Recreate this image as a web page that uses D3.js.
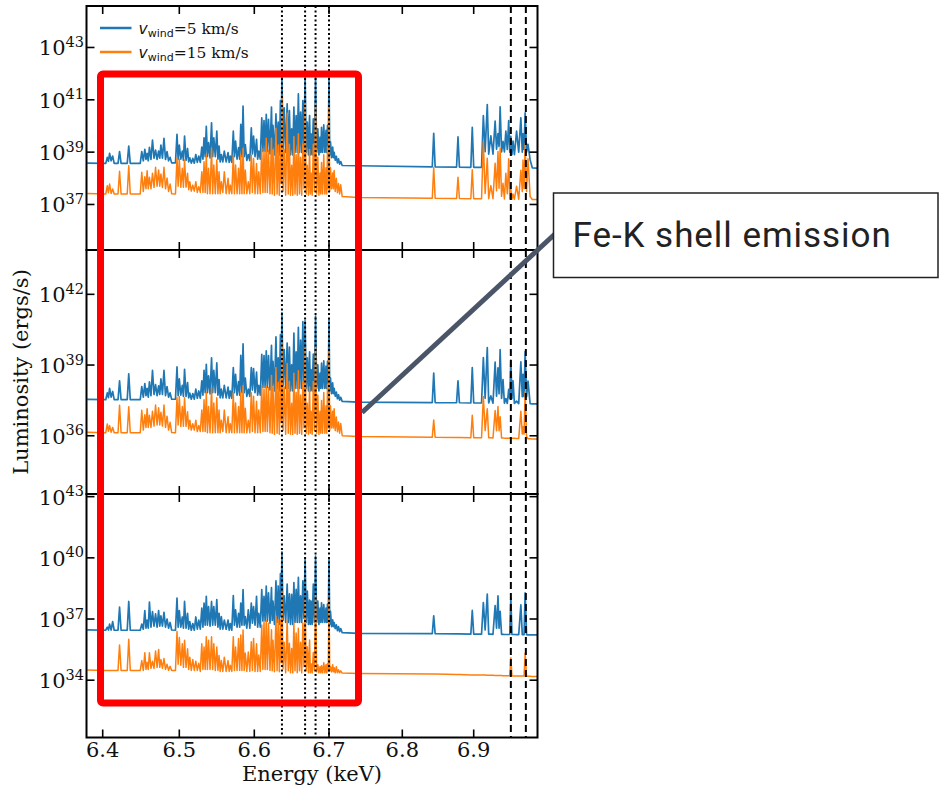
<!DOCTYPE html>
<html>
<head>
<meta charset="utf-8">
<script src="https://cdn.jsdelivr.net/npm/d3@7"></script>
<style>
  html, body { margin: 0; padding: 0; background: #fff; }
  svg { display: block; }
</style>
</head>
<body>
<svg id="chart" width="942" height="790"></svg>
<script>
// Photon energy of each spectrum vertex (keV), shared by all six spectra.
const energy = [
  6.380, 6.404, 6.406, 6.4075, 6.409, 6.411, 6.413, 6.415, 6.420, 6.422,
  6.424, 6.432, 6.434, 6.436, 6.449, 6.451, 6.453, 6.455, 6.4565, 6.458,
  6.4595, 6.461, 6.463, 6.465, 6.467, 6.469, 6.471, 6.473, 6.4745, 6.476,
  6.478, 6.480, 6.482, 6.484, 6.486, 6.488, 6.490, 6.495, 6.497, 6.4985,
  6.500, 6.502, 6.504, 6.5055, 6.507, 6.509, 6.511, 6.5125, 6.514, 6.516,
  6.518, 6.520, 6.522, 6.524, 6.526, 6.528, 6.530, 6.5315, 6.533, 6.5345,
  6.536, 6.5375, 6.539, 6.541, 6.543, 6.5445, 6.546, 6.548, 6.550, 6.5515,
  6.553, 6.5545, 6.556, 6.558, 6.560, 6.5625, 6.565, 6.5665, 6.568, 6.570,
  6.572, 6.5735, 6.575, 6.577, 6.579, 6.5805, 6.582, 6.5835, 6.585, 6.5865,
  6.588, 6.590, 6.592, 6.594, 6.596, 6.5975, 6.599, 6.601, 6.603, 6.6045,
  6.606, 6.608, 6.610, 6.6115, 6.613, 6.6145, 6.616, 6.6175, 6.619, 6.621,
  6.623, 6.624, 6.625, 6.627, 6.629, 6.6305, 6.632, 6.6335, 6.635, 6.636,
  6.637, 6.6385, 6.640, 6.642, 6.644, 6.6455, 6.647, 6.6485, 6.650, 6.6515,
  6.653, 6.6545, 6.656, 6.6575, 6.659, 6.6605, 6.662, 6.6635, 6.665, 6.6665,
  6.668, 6.6695, 6.671, 6.6725, 6.674, 6.675, 6.676, 6.6775, 6.679, 6.6805,
  6.682, 6.6835, 6.685, 6.6865, 6.688, 6.689, 6.690, 6.6915, 6.693, 6.6945,
  6.696, 6.697, 6.698, 6.699, 6.700, 6.701, 6.702, 6.7035, 6.705, 6.706,
  6.707, 6.7085, 6.710, 6.7115, 6.713, 6.7145, 6.716, 6.718, 6.740, 6.842,
  6.844, 6.846, 6.876, 6.878, 6.880, 6.896, 6.898, 6.900, 6.911, 6.9135,
  6.916, 6.919, 6.921, 6.924, 6.927, 6.930, 6.932, 6.934, 6.9355, 6.937,
  6.939, 6.941, 6.943, 6.945, 6.947, 6.949, 6.9505, 6.952, 6.9535, 6.955,
  6.957, 6.960, 6.963, 6.966, 6.968, 6.969, 6.9705, 6.972, 6.974, 6.976,
  6.979, 6.982, 6.990
];

// log10 luminosity (ergs/s), upper panel, v_wind = 5 km/s
const logL_top_5 = [
  38.58, 38.57, 38.80, 38.65, 38.95, 38.67, 38.85, 38.57, 38.57, 39.02,
  38.57, 38.57, 39.23, 38.57, 38.57, 39.02, 38.67, 39.11, 38.72, 38.95,
  38.67, 39.18, 38.72, 39.46, 38.77, 39.08, 38.72, 39.04, 38.77, 39.27,
  38.77, 39.53, 38.72, 39.02, 38.67, 38.80, 38.59, 38.59, 39.68, 38.72,
  39.27, 38.73, 39.04, 38.68, 39.61, 38.68, 39.14, 38.63, 38.78, 38.58,
  38.76, 38.58, 38.91, 38.61, 38.85, 38.61, 39.19, 38.73, 39.55, 38.83,
  39.99, 38.83, 39.36, 38.78, 40.12, 38.83, 39.55, 38.83, 39.80, 38.73,
  39.23, 38.63, 38.91, 38.63, 39.04, 38.63, 38.98, 38.61, 38.85, 38.61,
  39.80, 38.83, 39.42, 38.73, 39.17, 38.73, 40.06, 38.83, 40.76, 38.83,
  39.29, 38.68, 38.91, 38.68, 39.93, 38.93, 39.61, 38.83, 39.49, 38.73,
  39.04, 38.73, 40.31, 39.03, 40.21, 39.03, 40.44, 39.03, 40.25, 38.93,
  40.72, 39.09, 40.02, 38.89, 40.46, 38.99, 40.15, 38.89, 40.97, 39.29,
  41.95, 39.09, 40.69, 38.99, 40.85, 38.99, 40.59, 38.89, 39.89, 38.89,
  40.72, 38.99, 40.40, 38.99, 41.23, 38.99, 40.53, 38.99, 40.97, 39.19,
  41.90, 38.99, 40.15, 38.89, 40.40, 38.89, 39.70, 38.89, 40.27, 38.99,
  41.92, 38.99, 39.89, 38.89, 39.57, 38.99, 39.95, 38.99, 40.04, 38.99,
  39.83, 38.99, 40.02, 38.99, 41.93, 38.89, 39.39, 38.79, 39.19, 38.79,
  38.99, 38.69, 38.84, 38.59, 38.74, 38.54, 38.64, 38.49, 38.48, 38.44,
  39.72, 38.44, 38.43, 39.58, 38.43, 38.42, 39.95, 38.42, 38.42, 40.40,
  39.02, 40.82, 38.92, 39.62, 38.92, 40.19, 39.11, 39.71, 39.21, 40.73,
  39.01, 39.41, 39.01, 39.80, 39.10, 40.21, 39.00, 39.60, 38.90, 39.42,
  38.90, 39.80, 39.00, 40.31, 39.00, 39.70, 39.10, 40.50, 39.00, 39.30,
  38.70, 38.40, 38.39
];

// log10 luminosity (ergs/s), upper panel, v_wind = 15 km/s
const logL_top_15 = [
  37.42, 37.40, 37.72, 37.45, 37.78, 37.42, 37.59, 37.40, 37.40, 38.27,
  37.40, 37.40, 38.48, 37.40, 37.40, 38.23, 37.50, 38.06, 37.60, 38.29,
  37.60, 38.04, 37.60, 38.19, 37.65, 38.42, 37.70, 38.32, 37.70, 38.16,
  37.65, 38.42, 37.60, 38.01, 37.50, 37.78, 37.41, 37.40, 38.78, 37.70,
  38.74, 37.66, 38.38, 37.66, 38.70, 37.66, 38.19, 37.56, 37.87, 37.51,
  37.74, 37.51, 37.87, 37.46, 37.68, 37.46, 38.25, 37.46, 38.63, 37.46,
  38.89, 37.41, 38.38, 37.41, 39.14, 37.41, 38.51, 37.41, 38.70, 37.41,
  38.25, 37.41, 37.87, 37.46, 38.25, 37.41, 38.00, 37.41, 37.74, 37.41,
  38.89, 37.41, 38.51, 37.41, 38.38, 37.41, 38.89, 37.41, 39.14, 37.41,
  38.32, 37.41, 37.87, 37.41, 38.89, 37.46, 38.76, 37.41, 38.57, 37.41,
  38.25, 37.41, 39.14, 37.46, 39.02, 37.46, 39.53, 37.46, 39.08, 37.41,
  39.53, 37.40, 39.08, 37.35, 39.91, 37.40, 39.27, 37.35, 39.30, 37.80,
  41.10, 37.50, 39.10, 37.35, 40.50, 37.40, 39.30, 37.35, 38.50, 37.35,
  39.60, 37.40, 38.90, 37.35, 39.70, 37.40, 38.80, 37.35, 39.30, 37.60,
  40.85, 37.40, 38.50, 37.35, 39.10, 37.40, 38.20, 37.35, 39.30, 37.50,
  40.85, 37.40, 38.80, 37.35, 38.20, 37.40, 38.60, 37.40, 38.90, 37.40,
  38.40, 37.40, 39.20, 37.60, 40.75, 37.50, 38.40, 37.60, 38.20, 37.60,
  38.30, 37.50, 38.00, 37.45, 37.80, 37.40, 37.75, 37.30, 37.27, 37.24,
  38.41, 37.24, 37.23, 38.04, 37.23, 37.22, 38.33, 37.22, 37.22, 39.41,
  37.42, 38.77, 37.22, 37.72, 37.22, 38.58, 37.52, 39.02, 37.62, 39.14,
  37.31, 37.81, 37.21, 38.19, 37.41, 38.75, 37.21, 37.60, 37.20, 37.40,
  37.20, 37.70, 37.20, 38.31, 37.50, 38.70, 37.60, 39.32, 37.50, 38.75,
  37.30, 37.19, 37.19
];

// log10 luminosity (ergs/s), middle panel, v_wind = 5 km/s
const logL_mid_5 = [
  37.54, 37.53, 37.82, 37.62, 38.01, 37.64, 37.88, 37.53, 37.53, 38.33,
  37.53, 37.53, 38.63, 37.53, 37.53, 38.09, 37.64, 38.21, 37.70, 38.01,
  37.64, 38.29, 37.70, 38.77, 37.75, 38.17, 37.70, 38.12, 37.75, 38.41,
  37.75, 38.77, 37.70, 38.09, 37.64, 37.82, 37.55, 37.55, 38.92, 37.70,
  38.41, 37.72, 38.14, 37.67, 38.82, 37.67, 38.26, 37.61, 37.81, 37.55,
  37.79, 37.55, 37.98, 37.59, 37.90, 37.59, 38.33, 37.72, 38.78, 37.83,
  39.03, 37.83, 38.54, 37.78, 39.31, 37.83, 38.78, 37.83, 39.09, 37.72,
  38.38, 37.61, 37.98, 37.61, 38.14, 37.61, 38.06, 37.59, 37.90, 37.59,
  38.89, 37.83, 38.61, 37.72, 38.30, 37.72, 39.41, 37.83, 39.90, 37.83,
  38.45, 37.67, 37.98, 37.67, 38.89, 37.94, 38.85, 37.83, 38.70, 37.72,
  38.14, 37.72, 39.45, 38.05, 39.40, 38.05, 39.60, 38.05, 39.40, 37.94,
  39.84, 38.12, 39.16, 37.90, 40.20, 38.01, 39.31, 37.90, 40.29, 38.34,
  41.22, 38.12, 39.66, 38.01, 39.93, 38.01, 39.76, 37.90, 39.01, 37.90,
  40.36, 38.01, 39.56, 38.01, 40.60, 38.01, 40.06, 38.01, 40.84, 38.23,
  40.88, 38.01, 39.31, 37.90, 39.56, 37.90, 38.81, 37.90, 39.46, 38.01,
  41.08, 38.01, 39.01, 37.90, 38.66, 38.01, 39.08, 38.01, 39.18, 38.01,
  38.95, 38.01, 39.16, 38.01, 40.94, 37.90, 38.46, 37.79, 38.24, 37.79,
  38.01, 37.68, 37.85, 37.57, 37.74, 37.51, 37.63, 37.46, 37.43, 37.41,
  38.66, 37.41, 37.40, 38.33, 37.40, 37.39, 38.89, 37.39, 37.39, 39.32,
  37.59, 39.74, 37.39, 37.69, 37.38, 39.12, 37.68, 38.88, 37.78, 39.65,
  37.58, 38.38, 37.38, 37.58, 37.37, 37.97, 37.57, 39.21, 37.57, 38.33,
  37.37, 37.47, 37.36, 39.14, 37.66, 38.61, 37.66, 39.57, 37.66, 38.32,
  37.36, 37.35, 37.35
];

// log10 luminosity (ergs/s), middle panel, v_wind = 15 km/s
const logL_mid_15 = [
  36.15, 36.13, 36.50, 36.19, 36.43, 36.15, 36.35, 36.13, 36.13, 37.29,
  36.13, 36.13, 37.23, 36.13, 36.13, 37.08, 36.24, 36.89, 36.35, 37.15,
  36.35, 36.87, 36.35, 37.04, 36.41, 37.30, 36.46, 37.19, 36.46, 37.00,
  36.41, 37.30, 36.35, 36.83, 36.24, 36.57, 36.14, 36.13, 37.62, 36.46,
  37.67, 36.40, 37.24, 36.40, 37.61, 36.40, 37.02, 36.29, 36.66, 36.24,
  36.51, 36.24, 36.66, 36.18, 36.44, 36.18, 37.09, 36.18, 37.53, 36.18,
  37.83, 36.13, 37.24, 36.13, 38.05, 36.13, 37.39, 36.13, 37.61, 36.13,
  37.09, 36.13, 36.66, 36.18, 37.09, 36.13, 36.81, 36.13, 36.51, 36.13,
  37.83, 36.13, 37.39, 36.13, 37.24, 36.13, 37.83, 36.13, 38.12, 36.13,
  37.17, 36.13, 36.66, 36.13, 37.83, 36.18, 37.68, 36.13, 37.46, 36.13,
  37.09, 36.13, 38.12, 36.18, 37.98, 36.18, 38.12, 36.18, 38.05, 36.13,
  38.56, 36.11, 38.05, 36.06, 38.90, 36.11, 38.27, 36.06, 38.40, 36.55,
  39.92, 36.22, 38.07, 36.06, 39.07, 36.11, 38.30, 36.06, 37.38, 36.06,
  38.65, 36.11, 37.84, 36.06, 38.76, 36.11, 37.73, 36.06, 38.30, 36.33,
  39.71, 36.11, 37.38, 36.06, 38.07, 36.11, 37.04, 36.06, 38.30, 36.22,
  39.78, 36.11, 37.73, 36.06, 37.04, 36.11, 37.50, 36.11, 37.84, 36.11,
  37.27, 36.11, 38.19, 36.33, 39.56, 36.22, 37.27, 36.33, 37.04, 36.33,
  37.15, 36.22, 36.80, 36.17, 36.58, 36.11, 36.52, 36.00, 35.97, 35.94,
  36.67, 35.94, 35.93, 35.93, 35.93, 35.92, 36.87, 35.92, 35.92, 37.67,
  36.22, 37.15, 35.92, 35.92, 35.91, 37.07, 36.21, 37.24, 36.21, 36.81,
  35.91, 35.91, 35.90, 35.90, 35.90, 35.89, 35.89, 35.89, 35.89, 35.89,
  35.89, 35.88, 35.88, 37.04, 36.08, 36.38, 36.07, 37.88, 35.97, 35.87,
  35.87, 35.86, 35.86
];

// log10 luminosity (ergs/s), lower panel, v_wind = 5 km/s
const logL_bot_5 = [
  36.47, 36.45, 36.60, 36.46, 36.75, 36.46, 36.87, 36.45, 36.45, 37.58,
  36.45, 36.45, 37.86, 36.45, 36.45, 36.75, 36.50, 37.41, 36.55, 36.95,
  36.55, 37.83, 36.60, 37.36, 36.65, 37.25, 36.60, 37.41, 36.65, 37.15,
  36.65, 37.33, 36.60, 37.00, 36.55, 36.83, 36.46, 36.45, 38.03, 36.60,
  37.41, 36.60, 37.10, 36.55, 37.86, 36.55, 37.28, 36.50, 36.87, 36.45,
  36.78, 36.45, 37.10, 36.50, 36.95, 36.50, 37.53, 36.60, 37.78, 36.70,
  38.11, 36.70, 37.61, 36.65, 37.86, 36.70, 37.61, 36.70, 37.95, 36.60,
  37.28, 36.50, 37.12, 36.50, 36.95, 36.50, 36.95, 36.45, 36.78, 36.45,
  38.15, 36.70, 37.45, 36.60, 37.28, 36.60, 37.78, 36.70, 38.44, 36.70,
  37.12, 36.55, 37.45, 36.55, 37.78, 36.80, 37.61, 36.70, 38.11, 36.60,
  37.28, 36.60, 38.44, 36.90, 38.11, 36.90, 38.61, 36.90, 38.28, 36.80,
  38.54, 36.93, 37.88, 36.73, 38.87, 36.83, 38.62, 36.73, 39.23, 37.13,
  40.29, 36.93, 38.13, 36.83, 38.71, 36.83, 38.23, 36.73, 38.21, 36.73,
  38.79, 36.83, 38.46, 36.83, 39.04, 36.83, 38.13, 36.83, 38.87, 37.03,
  39.94, 36.83, 38.37, 36.73, 37.93, 36.73, 37.88, 36.73, 38.71, 36.83,
  40.08, 36.83, 37.88, 36.73, 37.53, 36.83, 37.79, 36.83, 37.71, 36.83,
  37.54, 36.83, 37.73, 36.83, 39.94, 36.73, 37.38, 36.63, 36.96, 36.63,
  36.83, 36.53, 36.71, 36.43, 36.63, 36.38, 36.53, 36.33, 36.30, 36.28,
  37.16, 36.28, 36.27, 36.27, 36.27, 36.26, 37.42, 36.26, 36.26, 37.81,
  36.46, 38.22, 36.26, 36.26, 36.25, 37.66, 36.55, 38.13, 36.55, 37.38,
  36.25, 36.25, 36.24, 36.24, 36.24, 36.24, 36.24, 38.04, 36.24, 36.24,
  36.24, 36.23, 36.23, 37.69, 36.23, 36.23, 36.23, 38.28, 36.23, 36.22,
  36.22, 36.22, 36.22
];

// log10 luminosity (ergs/s), lower panel, v_wind = 15 km/s
const logL_bot_15 = [
  34.50, 34.48, 34.48, 34.48, 34.48, 34.48, 34.48, 34.48, 34.48, 35.73,
  34.48, 34.48, 36.01, 34.48, 34.48, 34.96, 34.48, 35.34, 34.53, 34.88,
  34.53, 35.34, 34.58, 34.93, 34.58, 35.43, 34.63, 35.51, 34.63, 35.01,
  34.58, 35.06, 34.53, 34.78, 34.49, 34.68, 34.48, 34.48, 36.39, 34.78,
  36.09, 34.73, 35.79, 34.63, 35.96, 34.63, 35.54, 34.53, 35.13, 34.48,
  35.01, 34.48, 34.93, 34.48, 34.83, 34.43, 35.79, 34.53, 35.63, 34.53,
  36.13, 34.53, 35.96, 34.53, 36.13, 34.53, 35.79, 34.48, 35.63, 34.48,
  35.21, 34.43, 34.96, 34.43, 35.13, 34.43, 34.96, 34.43, 34.73, 34.43,
  36.13, 34.48, 35.63, 34.48, 36.04, 34.48, 36.21, 34.48, 36.46, 34.48,
  35.33, 34.43, 35.38, 34.43, 35.88, 34.48, 36.04, 34.43, 35.79, 34.43,
  35.23, 34.43, 36.71, 34.53, 36.87, 34.53, 36.91, 34.53, 36.79, 34.48,
  36.47, 34.46, 35.96, 34.41, 37.14, 34.46, 36.97, 34.41, 36.96, 34.86,
  38.31, 34.56, 35.86, 34.36, 36.97, 34.46, 35.81, 34.36, 35.56, 34.36,
  36.80, 34.46, 36.31, 34.36, 36.55, 34.46, 35.86, 34.36, 36.80, 34.66,
  37.90, 34.46, 35.64, 34.36, 35.97, 34.36, 34.81, 34.36, 35.36, 34.46,
  38.16, 34.41, 34.76, 34.36, 34.66, 34.36, 34.71, 34.36, 34.86, 34.36,
  34.76, 34.36, 34.81, 34.46, 38.00, 34.46, 34.66, 34.41, 34.76, 34.41,
  34.61, 34.36, 34.66, 34.36, 34.51, 34.36, 34.46, 34.35, 34.33, 34.30,
  34.30, 34.30, 34.28, 34.28, 34.28, 34.26, 34.26, 34.26, 34.25, 34.25,
  34.25, 34.24, 34.24, 34.24, 34.24, 34.23, 34.23, 34.23, 34.23, 34.23,
  34.23, 34.22, 34.22, 34.22, 34.22, 34.22, 34.22, 35.10, 34.22, 34.21,
  34.21, 34.21, 34.20, 34.20, 34.20, 34.20, 34.20, 35.33, 34.19, 34.19,
  34.19, 34.18, 34.18
];

// Axis ticks
const energyTicks = [6.4, 6.5, 6.6, 6.7, 6.8, 6.9];
const topExponents = [37, 39, 41, 43];
const midExponents = [36, 39, 42];
const botExponents = [34, 37, 40, 43];

// Fe XXV (He-like) and Fe XXVI (H-like) line energies, keV
const heLikeLines = [6.637, 6.668, 6.682, 6.700];
const hLikeLines = [6.952, 6.973];

const calloutText = "Fe-K shell emission";

// ---------------------------------------------------------------- layout
const svg = d3.select("#chart");
const plotLeft = 86.5, plotRight = 537.5;
const BLUE = "#1f77b4", ORANGE = "#ff7f0e";
const SERIF = "'DejaVu Serif', serif";

const x = d3.scaleLinear()
  .domain([6.38, 6.4, 6.5, 6.6, 6.7, 6.8, 6.9, 6.99])
  .range([87.2, 102.7, 179.3, 254.3, 329, 402.3, 473.7, 538]);

const panels = [
  { top: 6,   bottom: 250,   lo: 35.26, hi: 44.585, exps: topExponents, s5: logL_top_5, s15: logL_top_15 },
  { top: 250, bottom: 494,   lo: 33.53, hi: 43.88,  exps: midExponents, s5: logL_mid_5, s15: logL_mid_15 },
  { top: 494, bottom: 737.5, lo: 31.19, hi: 43.13,  exps: botExponents, s5: logL_bot_5, s15: logL_bot_15 }
];

const defs = svg.append("defs");

panels.forEach((p, i) => {
  const y = d3.scaleLog().domain([10 ** p.lo, 10 ** p.hi]).range([p.bottom, p.top]);
  const clipId = "clip" + i;
  defs.append("clipPath").attr("id", clipId)
    .append("rect").attr("x", plotLeft).attr("y", p.top)
    .attr("width", plotRight - plotLeft).attr("height", p.bottom - p.top);

  const g = svg.append("g");
  const body = g.append("g").attr("clip-path", `url(#${clipId})`);

  const line = vals => d3.line()
    .x((d, k) => x(energy[k]))
    .y((d, k) => y(10 ** vals[k]))(vals);

  body.append("path").attr("d", line(p.s5))
    .attr("fill", "none").attr("stroke", BLUE).attr("stroke-width", 1.7)
    .attr("stroke-linejoin", "round");
  body.append("path").attr("d", line(p.s15))
    .attr("fill", "none").attr("stroke", ORANGE).attr("stroke-width", 1.5)
    .attr("stroke-linejoin", "round");

  // reference line energies
  body.selectAll(".he").data(heLikeLines).enter().append("line")
    .attr("x1", d => x(d)).attr("x2", d => x(d))
    .attr("y1", p.top).attr("y2", p.bottom)
    .attr("stroke", "#000").attr("stroke-width", 2)
    .attr("stroke-dasharray", "2,2.5");
  body.selectAll(".h").data(hLikeLines).enter().append("line")
    .attr("x1", d => x(d)).attr("x2", d => x(d))
    .attr("y1", p.top).attr("y2", p.bottom)
    .attr("stroke", "#000").attr("stroke-width", 2)
    .attr("stroke-dasharray", "7,4");

  // energy ticks on both horizontal edges, pointing inward
  energyTicks.forEach(e => {
    g.append("line").attr("x1", x(e)).attr("x2", x(e))
      .attr("y1", p.top).attr("y2", p.top + 8)
      .attr("stroke", "#000").attr("stroke-width", 1.6);
    g.append("line").attr("x1", x(e)).attr("x2", x(e))
      .attr("y1", p.bottom).attr("y2", p.bottom - 8)
      .attr("stroke", "#000").attr("stroke-width", 1.6);
  });

  // luminosity ticks on both vertical edges, pointing inward, with 10^n labels
  p.exps.forEach(n => {
    const yy = y(10 ** n);
    g.append("line").attr("x1", plotLeft).attr("x2", plotLeft + 8)
      .attr("y1", yy).attr("y2", yy).attr("stroke", "#000").attr("stroke-width", 1.6);
    g.append("line").attr("x1", plotRight).attr("x2", plotRight - 8)
      .attr("y1", yy).attr("y2", yy).attr("stroke", "#000").attr("stroke-width", 1.6);
    const t = g.append("text").attr("x", 84).attr("y", yy + 8)
      .attr("text-anchor", "end")
      .style("font-family", SERIF).style("font-size", "21px").attr("fill", "#111");
    t.append("tspan").text("10");
    t.append("tspan").attr("dy", -8.5).style("font-size", "14.5px").text(n);
  });

  g.append("rect").attr("x", plotLeft).attr("y", p.top)
    .attr("width", plotRight - plotLeft).attr("height", p.bottom - p.top)
    .attr("fill", "none").attr("stroke", "#000").attr("stroke-width", 2);
});

// energy tick labels
svg.selectAll(".xlab").data(energyTicks).enter().append("text")
  .attr("x", d => x(d)).attr("y", 757)
  .attr("text-anchor", "middle")
  .style("font-family", SERIF).style("font-size", "21px").attr("fill", "#111")
  .text(d => d3.format(".1f")(d));

svg.append("text").attr("x", (plotLeft + plotRight) / 2).attr("y", 781)
  .attr("text-anchor", "middle")
  .style("font-family", SERIF).style("font-size", "21px").attr("fill", "#111")
  .text("Energy (keV)");

svg.append("text")
  .attr("transform", "translate(27.5,372) rotate(-90)")
  .attr("text-anchor", "middle")
  .style("font-family", SERIF).style("font-size", "21px").attr("fill", "#111")
  .text("Luminosity (ergs/s)");

// legend
[[BLUE, "5", 28], [ORANGE, "15", 52]].forEach(([col, v, ly]) => {
  svg.append("line").attr("x1", 100).attr("x2", 131.5).attr("y1", ly).attr("y2", ly)
    .attr("stroke", col).attr("stroke-width", 2.5);
  const t = svg.append("text").attr("x", 138.5).attr("y", ly + 6)
    .style("font-size", "15.5px").attr("fill", "#111");
  t.append("tspan").style("font-family", "'DejaVu Sans', sans-serif")
    .style("font-style", "italic").text("v");
  t.append("tspan").attr("dy", 3).style("font-family", "'DejaVu Sans', sans-serif")
    .style("font-size", "11px").text("wind");
  t.append("tspan").attr("dy", -3).style("font-family", SERIF).text("=" + v + " km/s");
});

// highlight box around the Fe XXV complex, and its callout
svg.append("rect").attr("x", 100.5).attr("y", 74).attr("width", 258).attr("height", 629)
  .attr("rx", 2.5).attr("fill", "none").attr("stroke", "#ff0000").attr("stroke-width", 7);

svg.append("line").attr("x1", 362).attr("y1", 412.5).attr("x2", 556).attr("y2", 233)
  .attr("stroke", "#4a5568").attr("stroke-width", 5);

svg.append("rect").attr("x", 553.5).attr("y", 193).attr("width", 384.5).attr("height", 84.5)
  .attr("fill", "#fff").attr("stroke", "#222").attr("stroke-width", 1.5);

svg.append("text").attr("x", 572.5).attr("y", 247)
  .style("font-family", "Roboto, sans-serif").style("font-size", "35px")
  .style("letter-spacing", "0.95px").attr("fill", "#222")
  .text(calloutText);
</script>
</body>
</html>
